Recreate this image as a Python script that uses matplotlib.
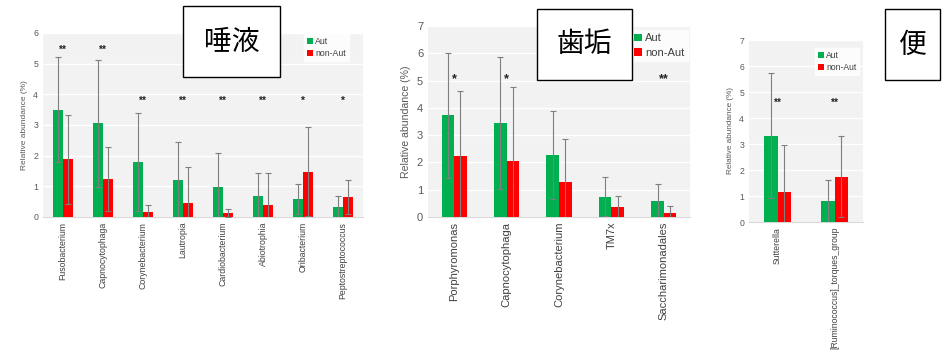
import matplotlib
matplotlib.use("Agg")
import matplotlib.pyplot as plt
from matplotlib.patches import Rectangle
import numpy as np

plt.rcParams['font.family'] = ['Liberation Sans', 'DejaVu Sans']

# ---- Data ----
saliva_cats = ["Fusobacterium", "Capnocytophaga", "Corynebacterium", "Lautropia",
               "Cardiobacterium", "Abiotrophia", "Oribacterium", "Peptostreptococcus"]
saliva_aut = [3.50, 3.05, 1.80, 1.20, 0.97, 0.68, 0.58, 0.32]
saliva_aut_sd = [1.72, 2.07, 1.60, 1.25, 1.13, 0.74, 0.49, 0.36]
saliva_non = [1.88, 1.23, 0.17, 0.45, 0.13, 0.40, 1.47, 0.66]
saliva_non_sd = [1.45, 1.04, 0.21, 1.17, 0.12, 1.02, 1.45, 0.56]
saliva_sig = ["**", "**", "**", "**", "**", "**", "*", "*"]
saliva_sig_y = [5.45, 5.45, 3.8, 3.8, 3.8, 3.8, 3.8, 3.8]

plaque_cats = ["Porphyromonas", "Capnocytophaga", "Corynebacterium", "TM7x", "Saccharimonadales"]
plaque_aut = [3.72, 3.45, 2.28, 0.75, 0.58]
plaque_aut_sd = [2.30, 2.42, 1.62, 0.73, 0.62]
plaque_non = [2.22, 2.07, 1.30, 0.37, 0.15]
plaque_non_sd = [2.38, 2.68, 1.55, 0.41, 0.27]
plaque_sig = ["*", "*", "", "", "**"]
plaque_sig_y = [5.05, 5.05, 5.05, 5.05, 5.05]

stool_cats = ["Sutterella", "[Ruminococcus]_torques_group"]
stool_aut = [3.32, 0.80]
stool_aut_sd = [2.40, 0.82]
stool_non = [1.17, 1.75]
stool_non_sd = [1.80, 1.55]
stool_sig = ["**", "**"]
stool_sig_y = [4.6, 4.6]

GREEN = "#00b050"
RED = "#ff0000"
BG = "#f2f2f2"
W, H = 944, 354

fig = plt.figure(figsize=(W / 100, H / 100), dpi=100)


def fr(l, r, b, t):
    return [l / W, 1 - b / H, (r - l) / W, (b - t) / H]


def panel(rect, cats, aut, aut_sd, non, non_sd, sig, sig_y, ymax, fs, legrect):
    ax = fig.add_axes(rect)
    ax.set_facecolor(BG)
    x = np.arange(len(cats))
    bw = 0.24
    ekw = dict(ecolor="#7f7f7f", elinewidth=0.8, capsize=2, capthick=0.8)
    ax.bar(x - bw / 2, aut, bw, color=GREEN, yerr=aut_sd, error_kw=ekw, label="Aut", zorder=3)
    ax.bar(x + bw / 2, non, bw, color=RED, yerr=non_sd, error_kw=ekw, label="non-Aut", zorder=3)
    for xi, s, sy in zip(x, sig, sig_y):
        if s:
            ax.text(xi, sy, s, ha="center", va="center", fontsize=fs + 1, fontweight="bold",
                    color="#222222", zorder=4)
    ax.set_xlim(-0.5, len(cats) - 0.5)
    ax.set_ylim(0, ymax)
    ax.set_yticks(range(0, ymax + 1))
    ax.yaxis.grid(True, color="white", linewidth=1.0, zorder=0)
    ax.set_axisbelow(True)
    for s in ["top", "right", "left"]:
        ax.spines[s].set_visible(False)
    ax.spines["bottom"].set_color("#d9d9d9")
    ax.tick_params(length=0, colors="#595959", labelsize=fs)
    ax.set_xticks(x)
    ax.set_xticklabels(cats, rotation=90, fontsize=fs, color="#404040", va="top")
    ax.set_ylabel("Relative abundance (%)", fontsize=fs * 0.95, color="#595959")
    leg = fig.legend(handles=ax.get_legend_handles_labels()[0], labels=["Aut", "non-Aut"],
                     loc="upper left", bbox_to_anchor=legrect, fontsize=fs,
                     frameon=True, fancybox=False, edgecolor="white", facecolor="white",
                     handlelength=0.7, handleheight=0.7, handletextpad=0.3,
                     borderpad=0.3, labelspacing=0.4, borderaxespad=0)
    for t in leg.get_texts():
        t.set_color("#404040")
    return ax


panel(fr(43, 363, 217, 33), saliva_cats, saliva_aut, saliva_aut_sd, saliva_non, saliva_non_sd,
      saliva_sig, saliva_sig_y, 6, 6.3, (304 / W, 1 - 34 / H))
panel(fr(428, 690, 217, 26), plaque_cats, plaque_aut, plaque_aut_sd, plaque_non, plaque_non_sd,
      plaque_sig, plaque_sig_y, 7, 8.0, (631 / W, 1 - 30 / H))
panel(fr(749, 863, 222, 40), stool_cats, stool_aut, stool_aut_sd, stool_non, stool_non_sd,
      stool_sig, stool_sig_y, 7, 6.2, (815 / W, 1 - 48 / H))


def title_box(l, r, t, b, text):
    fig.add_artist(Rectangle((l / W, 1 - b / H), (r - l) / W, (b - t) / H,
                             transform=fig.transFigure, facecolor="white",
                             edgecolor="black", linewidth=1.0, zorder=10))
    fig.text((l + r) / 2 / W, 1 - (t + b) / 2 / H, text, ha="center", va="center",
             fontsize=20, family=["Noto Sans CJK JP", "DejaVu Sans"], zorder=11)


title_box(183, 280, 6, 77, "唾液")
title_box(537, 632, 9, 80, "歯垢")
title_box(885, 940, 9, 80, "便")

fig.savefig("out.png", dpi=100)
